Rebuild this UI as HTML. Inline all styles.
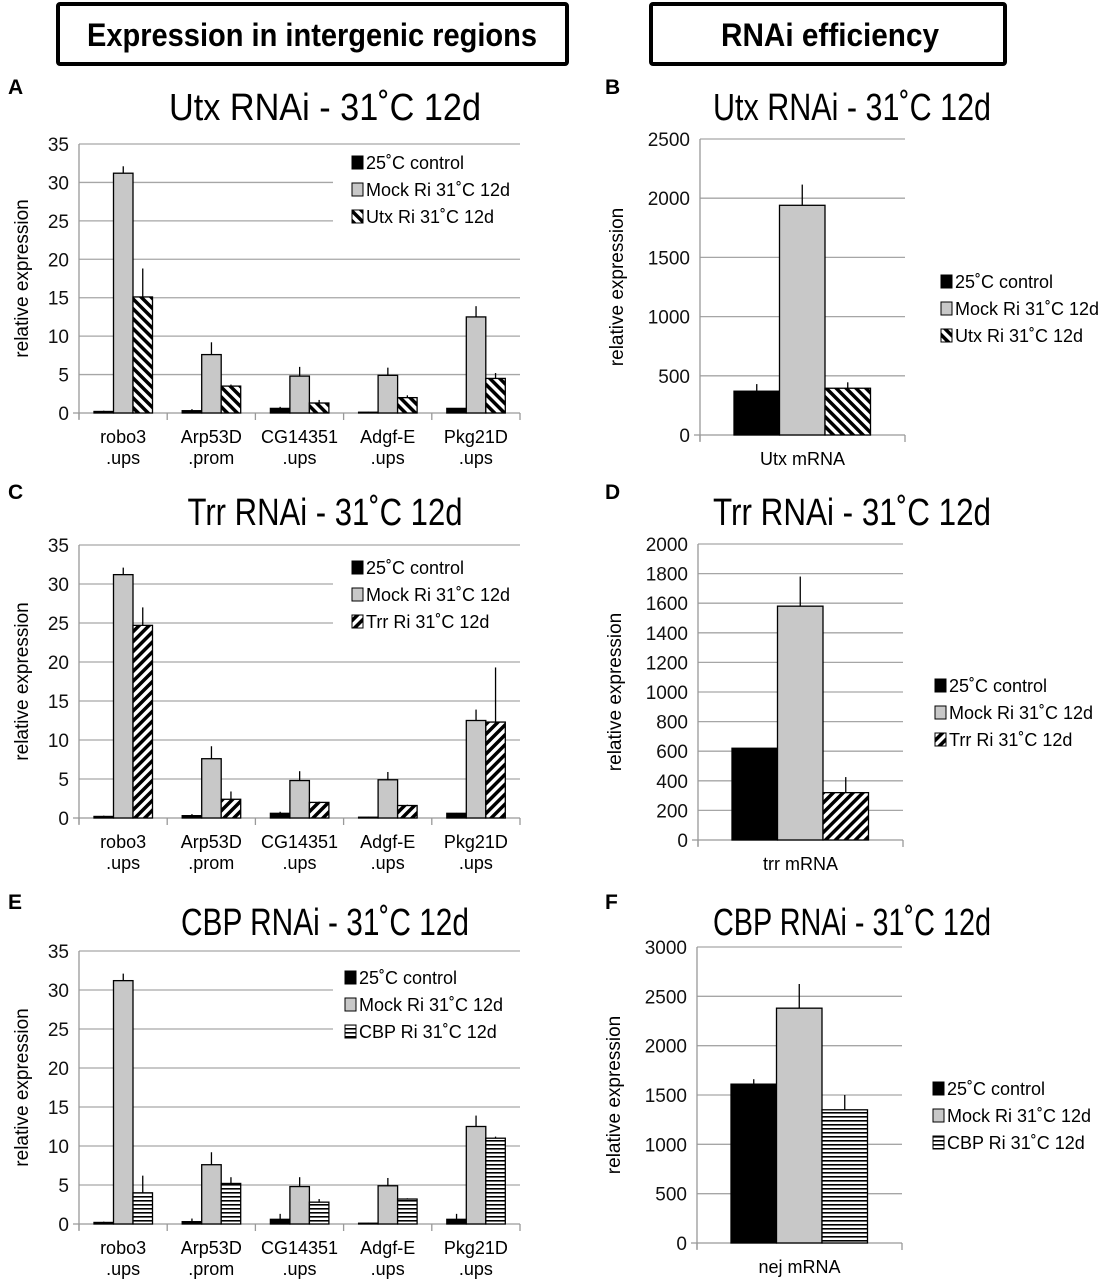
<!DOCTYPE html>
<html><head><meta charset="utf-8"><style>
html,body{margin:0;padding:0;background:#fff;}
svg{display:block;font-family:"Liberation Sans",sans-serif;}
</style></head><body>
<svg id="fig" width="1109" height="1280" viewBox="0 0 1109 1280" xmlns="http://www.w3.org/2000/svg">
<defs>
<pattern id="pUtx" patternUnits="userSpaceOnUse" width="7" height="7" patternTransform="rotate(-45)">
<rect width="7" height="7" fill="#fff"/><rect width="3.5" height="7" fill="#000"/></pattern>
<pattern id="pTrr" patternUnits="userSpaceOnUse" width="7" height="7" patternTransform="rotate(45)">
<rect width="7" height="7" fill="#fff"/><rect width="3.5" height="7" fill="#000"/></pattern>
<pattern id="pCbp" patternUnits="userSpaceOnUse" width="4" height="4">
<rect width="4" height="4" fill="#fff"/><rect width="4" height="1.6" fill="#000"/></pattern>
</defs>
<rect x="58" y="4" width="509" height="60" fill="#fff" stroke="#000" stroke-width="4" rx="2"/>
<text x="312" y="46" text-anchor="middle" font-size="32" font-weight="bold" textLength="450" lengthAdjust="spacingAndGlyphs">Expression in intergenic regions</text>
<rect x="651" y="4" width="354" height="60" fill="#fff" stroke="#000" stroke-width="4" rx="2"/>
<text x="830" y="46" text-anchor="middle" font-size="32" font-weight="bold" textLength="218" lengthAdjust="spacingAndGlyphs">RNAi efficiency</text>
<g id="root"></g>
</svg>
<script>
// shared gene categories
const genes = [["robo3",".ups"],["Arp53D",".prom"],["CG14351",".ups"],["Adgf-E",".ups"],["Pkg21D",".ups"]];
const ctrlVals = [0.2,0.3,0.6,0.1,0.6];
const ctrlErr = [0.1,0.2,0.2,0.05,0.05];
const mockVals = [31.2,7.6,4.8,4.9,12.5];
const mockErr = [0.9,1.6,1.2,1.0,1.4];
const utxVals = [15.1,3.5,1.3,2.0,4.5];
const utxErr = [3.7,0.2,0.4,0.3,0.7];
const trrVals = [24.7,2.4,2.0,1.6,12.3];
const trrErr = [2.3,1.0,0.1,0.1,7.0];
const cbpVals = [4.0,5.2,2.8,3.2,11.0];
const cbpErr = [2.2,0.8,0.4,0.1,0.2];
const ctrlErrE = [0.1,0.4,0.7,0.05,0.7];
const leftTicks = [0,5,10,15,20,25,30,35];
// right panels
const utxMrna = [370,1940,395];
const utxMrnaErr = [60,175,50];
const utxTicks = [0,500,1000,1500,2000,2500];
const trrMrna = [620,1580,320];
const trrMrnaErr = [0,200,105];
const trrTicks = [0,200,400,600,800,1000,1200,1400,1600,1800,2000];
const nejMrna = [1610,2380,1350];
const nejMrnaErr = [50,245,150];
const nejTicks = [0,500,1000,1500,2000,2500,3000];

const NS="http://www.w3.org/2000/svg";
const root=document.getElementById('root');
function el(tag,attrs,parent,txt){const e=document.createElementNS(NS,tag);for(const k in attrs)e.setAttribute(k,attrs[k]);if(txt!==undefined)e.textContent=txt;(parent||root).appendChild(e);return e;}

function panel(p){
  const g=el('g',{});
  
  
  const ymax=p.ticks[p.ticks.length-1];
  const ys=v=>p.y0-(v/ymax)*(p.y0-p.yTop);
  const lt=el('text',{x:p.letterX,y:p.letterY,'font-size':21,'font-weight':'bold'},g,p.letter);
  
  
  const tt=el('text',{x:p.titleX,y:p.titleY,'text-anchor':'middle','font-size':38,textLength:p.titleW,lengthAdjust:'spacingAndGlyphs'},g,p.title);
  
  
  p.ticks.forEach(t=>{
    const y=ys(t);
    let x2=p.xR;
    if(p.gridCut && p.gridCut.includes(t)) x2=p.gridCutX;
    if(t>0){const gl=el('line',{x1:p.xL,x2:x2,y1:y,y2:y,stroke:'#a6a6a6','stroke-width':1.3},g);
      
      }
    const tl=el('text',{x:p.xL-10,y:y+7,'text-anchor':'end','font-size':p.tickFs,fill:'#111'},g,String(t));
    
    
  });
  el('line',{x1:p.xL,x2:p.xL,y1:p.yTop,y2:p.y0+6,stroke:'#999','stroke-width':1.3},g);
  el('line',{x1:p.xL-6,x2:p.xR,y1:p.y0,y2:p.y0,stroke:'#999','stroke-width':1.3},g);
  const yt=el('text',{x:0,y:0,'text-anchor':'middle','font-size':19,transform:`translate(${p.xL-p.ytOff},${(p.y0+p.yTop)/2}) rotate(-90)`},g,'relative expression');
  
  
  const n=p.cats.length, cw=(p.xR-p.xL)/n;
  for(let i=0;i<=n;i++){el('line',{x1:p.xL+i*cw,x2:p.xL+i*cw,y1:p.y0,y2:p.y0+7,stroke:'#999','stroke-width':1.3},g);}
  p.cats.forEach((c,i)=>{
    const cx=p.xL+cw*(i+0.5);
    c.forEach((line,j)=>{const ct=el('text',{x:cx,y:p.y0+30+j*21,'text-anchor':'middle','font-size':18},g,line);
      
      });
    p.series.forEach((s,k)=>{
      const x=p.xL+i*cw+p.off+k*p.bw, v=s.vals[i], y=ys(v);
      const r=el('rect',{x:x,y:y,width:p.bw,height:p.y0-y,fill:s.fill,stroke:'#000','stroke-width':1.3},g);
      
      
      const e=s.err[i];
      if(e>0){const eb=el('line',{x1:x+p.bw/2,x2:x+p.bw/2,y1:y,y2:ys(v+e),stroke:'#000','stroke-width':1.3},g);
        
        }
    });
  });
  const lg=el('g',{},g);
  
  
  p.series.forEach((s,k)=>{
    const y=p.legY+k*p.legDy;
    el('rect',{x:p.legX,y:y-13,width:11,height:13,fill:s.fill,stroke:'#000','stroke-width':1},lg);
    const lt2=el('text',{x:p.legX+14,y:y,'font-size':p.legFs},lg,s.label);
    
    
  });
}
const G='#c8c8c8';
function leftPanel(letter,name,title,titleW,dy,y0,yTop,kd,kv,ke,klabel,kfill,legX,ctrlE){
  panel({name:name,letter:letter,letterX:8,letterY:94+dy,title:title,titleX:325,titleY:120+dy,titleW:titleW,
    xL:79,xR:520,y0:y0,yTop:yTop,ticks:leftTicks,tickFs:19,gridCut:[25,30],gridCutX:333,ytOff:51,
    cats:genes,off:15,bw:19.5,legX:legX,legY:169+dy,legDy:27,legFs:18,
    series:[{key:'control',vals:ctrlVals,err:ctrlE,fill:'#000',label:'25˚C control'},
            {key:'mock',vals:mockVals,err:mockErr,fill:G,label:'Mock Ri 31˚C 12d'},
            {key:kd,vals:kv,err:ke,fill:kfill,label:klabel}]});
}
leftPanel('A','panel-a-utx-intergenic','Utx RNAi - 31˚C 12d',312,0,413,144,'utx',utxVals,utxErr,'Utx Ri 31˚C 12d','url(#pUtx)',352,ctrlErr);
leftPanel('C','panel-c-trr-intergenic','Trr RNAi - 31˚C 12d',275,405,818,545,'trr',trrVals,trrErr,'Trr Ri 31˚C 12d','url(#pTrr)',352,ctrlErr);
leftPanel('E','panel-e-cbp-intergenic','CBP RNAi - 31˚C 12d',288,815,1224,951,'cbp',cbpVals,cbpErr,'CBP Ri 31˚C 12d','url(#pCbp)',345,ctrlErrE);
function rightPanel(letter,name,title,dy,xL,y0,yTop,ticks,cat,vals,errs,klabel,kfill,legX,legY){
  panel({name:name,letter:letter,letterX:605,letterY:94+dy,title:title,titleX:852,titleY:120+dy,titleW:278,
    xL:xL,xR:xL+205,y0:y0,yTop:yTop,ticks:ticks,tickFs:19,cats:[[cat]],off:34,bw:45.5,ytOff:77,
    legX:legX,legY:legY,legDy:27,legFs:18,
    series:[{key:'control',vals:[vals[0]],err:[errs[0]],fill:'#000',label:'25˚C control'},
            {key:'mock',vals:[vals[1]],err:[errs[1]],fill:G,label:'Mock Ri 31˚C 12d'},
            {key:'rnai',vals:[vals[2]],err:[errs[2]],fill:kfill,label:klabel}]});
}
rightPanel('B','panel-b-utx-efficiency','Utx RNAi - 31˚C 12d',0,700,435,139,utxTicks,'Utx mRNA',utxMrna,utxMrnaErr,'Utx Ri 31˚C 12d','url(#pUtx)',941,288);
rightPanel('D','panel-d-trr-efficiency','Trr RNAi - 31˚C 12d',405,698,840,544,trrTicks,'trr mRNA',trrMrna,trrMrnaErr,'Trr Ri 31˚C 12d','url(#pTrr)',935,692);
rightPanel('F','panel-f-cbp-efficiency','CBP RNAi - 31˚C 12d',815,697,1243,947,nejTicks,'nej mRNA',nejMrna,nejMrnaErr,'CBP Ri 31˚C 12d','url(#pCbp)',933,1095);
</script>
</body></html>
